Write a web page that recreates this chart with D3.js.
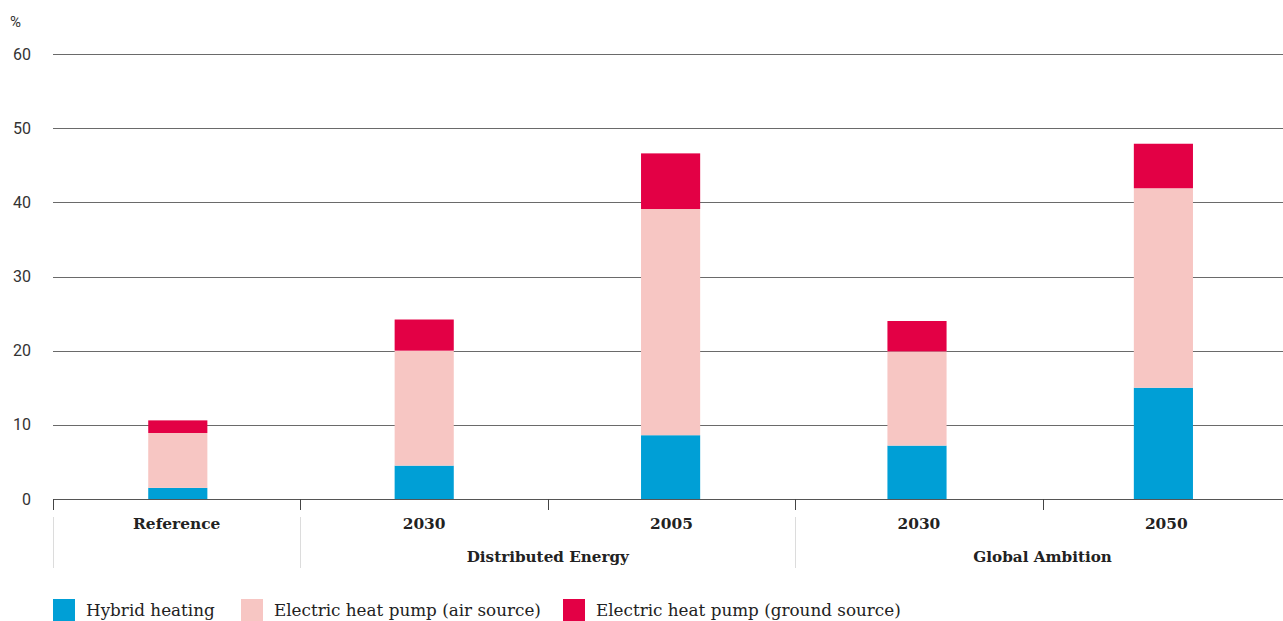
<!DOCTYPE html>
<html>
<head>
<meta charset="utf-8">
<script src="https://cdn.jsdelivr.net/npm/d3@7"></script>
<style>
  html, body { margin: 0; padding: 0; background: #fff; overflow: hidden; }
  svg { display: block; }
</style>
</head>
<body>
<svg id="chart" width="1283" height="621"></svg>
<script>
// Category labels along the x axis and the scenario group each belongs to
const categories = ["Reference", "2030", "2005", "2030", "2050"];
const groups = ["", "Distributed Energy", "Distributed Energy", "Global Ambition", "Global Ambition"];

// Share of heating (%) by technology
const hybrid = [1.5, 4.5, 8.6, 7.2, 15.0];
const airSource = [7.4, 15.5, 30.5, 12.7, 26.9];
const groundSource = [1.7, 4.2, 7.5, 4.1, 6.0];

const seriesNames = ["Hybrid heating", "Electric heat pump (air source)", "Electric heat pump (ground source)"];
const seriesColors = ["#009fd6", "#f7c6c3", "#e30045"];
const yTicks = [0, 10, 20, 30, 40, 50, 60];

(function draw() {
  const svg = d3.select("#chart");
  const W = 1283;
  const plotLeft = 53, step = 247.4;
  const plotTop = 54, plotBottom = 499;

  const keys = categories.map((c, i) => i);
  // Category bands (ticks, labels, separators)
  const x = d3.scaleBand().domain(keys).range([plotLeft, plotLeft + step * categories.length]).padding(0);
  // Bar placement
  const xBar = d3.scaleBand().domain(keys).range([54.6, 1286.6]).paddingInner(0.76).paddingOuter(0.38);
  const y = d3.scaleLinear().domain([0, 60]).range([plotBottom, plotTop]);

  const rows = keys.map(i => ({ key: i, hybrid: hybrid[i], air: airSource[i], ground: groundSource[i] }));
  const stack = d3.stack().keys(["hybrid", "air", "ground"]);
  const layers = stack(rows);

  const serif = "'DejaVu Serif', 'Liberation Serif', serif";
  const sans = "Roboto, 'Noto Sans', sans-serif";

  // Horizontal gridlines
  svg.append("g")
    .selectAll("line")
    .data(yTicks.filter(t => t > 0))
    .join("line")
    .attr("x1", plotLeft).attr("x2", W)
    .attr("y1", d => Math.round(y(d)) + 0.5).attr("y2", d => Math.round(y(d)) + 0.5)
    .attr("stroke", "#6a6a6a").attr("stroke-width", 1);

  // Y tick labels
  const yAxis = d3.axisLeft(y).tickValues(yTicks).tickSize(0).tickPadding(0);
  const yg = svg.append("g").attr("transform", "translate(31,0)").call(yAxis);
  yg.select(".domain").remove();
  yg.selectAll("text")
    .attr("font-family", sans).attr("font-size", 16).attr("fill", "#333");

  svg.append("text")
    .attr("x", 10).attr("y", 27)
    .attr("font-family", sans).attr("font-size", 15).attr("fill", "#333")
    .text("%");

  // Stacked bars
  svg.append("g")
    .selectAll("g")
    .data(layers)
    .join("g")
    .attr("fill", (d, i) => seriesColors[i])
    .selectAll("rect")
    .data(d => d)
    .join("rect")
    .attr("x", d => xBar(d.data.key))
    .attr("width", xBar.bandwidth())
    .attr("y", d => y(d[1]))
    .attr("height", d => y(d[0]) - y(d[1]));

  // Baseline axis with ticks at band boundaries
  svg.append("line")
    .attr("x1", plotLeft).attr("x2", W)
    .attr("y1", plotBottom + 0.5).attr("y2", plotBottom + 0.5)
    .attr("stroke", "#555").attr("stroke-width", 1.2);

  const boundaries = keys.map(k => x(k)).concat([x.range()[1]]);
  svg.append("g")
    .selectAll("line")
    .data(boundaries)
    .join("line")
    .attr("x1", d => Math.round(d) + 0.5).attr("x2", d => Math.round(d) + 0.5)
    .attr("y1", plotBottom).attr("y2", plotBottom + 11)
    .attr("stroke", "#444").attr("stroke-width", 1);

  // Category labels
  svg.append("g")
    .selectAll("text")
    .data(keys)
    .join("text")
    .attr("x", d => x(d) + x.bandwidth() / 2)
    .attr("y", 529)
    .attr("text-anchor", "middle")
    .attr("font-family", serif).attr("font-weight", "bold")
    .attr("font-size", 15.4).attr("fill", "#222")
    .text(d => categories[d]);

  // Group spans and separators
  const groupSpans = [];
  keys.forEach(i => {
    const last = groupSpans[groupSpans.length - 1];
    if (last && last.name === groups[i]) last.end = i;
    else groupSpans.push({ name: groups[i], start: i, end: i });
  });

  const sepX = groupSpans.map(g => x(g.start)).concat([x.range()[1]]);
  svg.append("g")
    .selectAll("line")
    .data(sepX)
    .join("line")
    .attr("x1", d => Math.round(d) + 0.5).attr("x2", d => Math.round(d) + 0.5)
    .attr("y1", 517).attr("y2", 568)
    .attr("stroke", "#dcdcdc").attr("stroke-width", 1);

  svg.append("g")
    .selectAll("text")
    .data(groupSpans.filter(g => g.name))
    .join("text")
    .attr("x", g => (x(g.start) + x(g.end) + x.bandwidth()) / 2)
    .attr("y", 562)
    .attr("text-anchor", "middle")
    .attr("font-family", serif).attr("font-weight", "bold")
    .attr("font-size", 15.2).attr("fill", "#222")
    .text(g => g.name);

  // Legend
  const legendX = [53, 241, 563];
  const lg = svg.append("g")
    .selectAll("g")
    .data(seriesNames)
    .join("g")
    .attr("transform", (d, i) => `translate(${legendX[i]},599)`);
  lg.append("rect").attr("width", 22).attr("height", 22).attr("fill", (d, i) => seriesColors[i]);
  lg.append("text")
    .attr("x", 33).attr("y", 17)
    .attr("font-family", serif).attr("font-size", 16.8).attr("fill", "#222")
    .text(d => d);
})();
</script>
</body>
</html>
